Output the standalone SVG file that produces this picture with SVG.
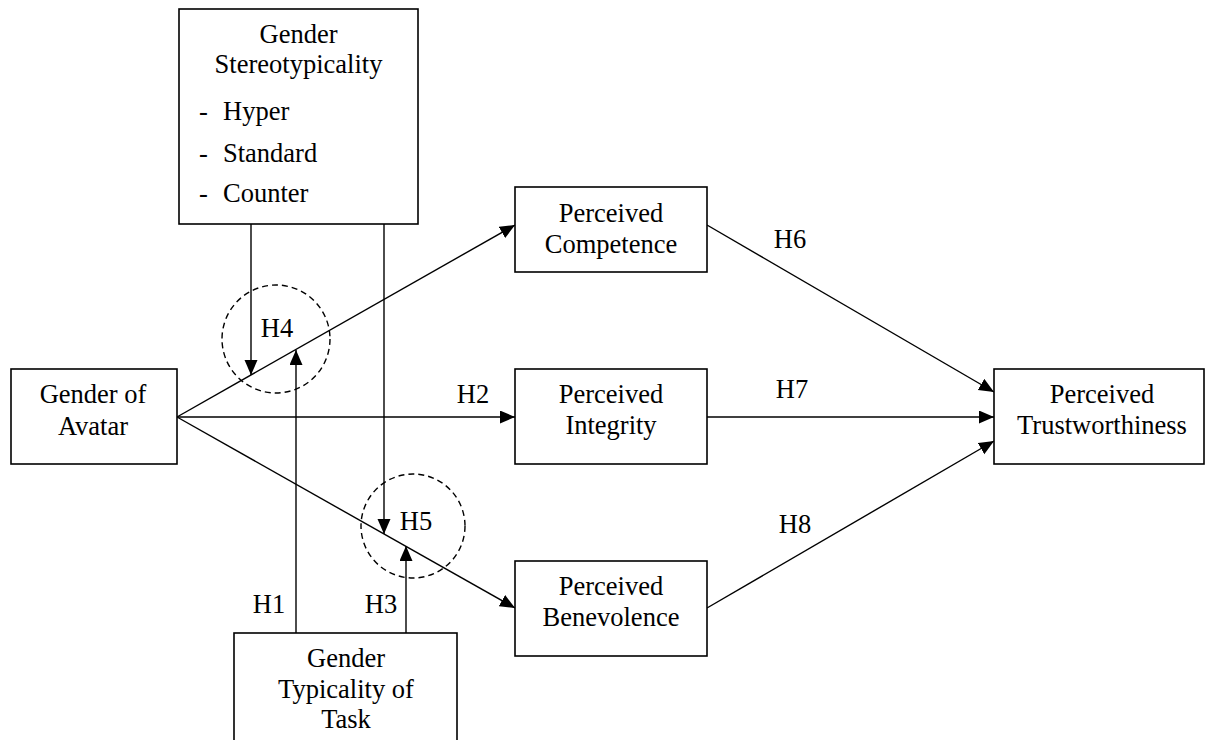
<svg xmlns="http://www.w3.org/2000/svg" width="1205" height="740" viewBox="0 0 1205 740" font-family="'Liberation Serif', Tinos, 'Times New Roman', 'DejaVu Serif', serif">
<style>
.box{fill:#fff;stroke:#000;stroke-width:1.6}
.t{font-family:'Liberation Serif', Tinos, 'Times New Roman', 'DejaVu Serif', serif;font-size:26.5px;fill:#000}
.c{text-anchor:middle}
.ln{stroke:#000;stroke-width:1.4;fill:none}
.dc{stroke:#000;stroke-width:1.4;fill:none;stroke-dasharray:6 4}
</style>
<defs>
<marker id="ah" markerUnits="userSpaceOnUse" markerWidth="16" markerHeight="14" refX="15" refY="6.5" orient="auto">
<path d="M0,0 L15,6.5 L0,13 z" fill="#000"/>
</marker>
</defs>
<rect width="1205" height="740" fill="#fff"/>
<g id="connectors">
<line class="ln" x1="177" y1="417" x2="515" y2="225" marker-end="url(#ah)"/>
<line class="ln" x1="177" y1="417" x2="515" y2="417" marker-end="url(#ah)"/>
<line class="ln" x1="177" y1="417" x2="515" y2="608" marker-end="url(#ah)"/>
<line class="ln" x1="707" y1="225" x2="994" y2="392" marker-end="url(#ah)"/>
<line class="ln" x1="707" y1="417" x2="994" y2="417" marker-end="url(#ah)"/>
<line class="ln" x1="707" y1="608" x2="994" y2="441" marker-end="url(#ah)"/>
<line class="ln" x1="251" y1="224" x2="251" y2="375" marker-end="url(#ah)"/>
<line class="ln" x1="384" y1="224" x2="384" y2="534" marker-end="url(#ah)"/>
<line class="ln" x1="296" y1="633" x2="296" y2="350" marker-end="url(#ah)"/>
<line class="ln" x1="406" y1="633" x2="406" y2="546" marker-end="url(#ah)"/>
<circle class="dc" cx="276" cy="339" r="54"/>
<circle class="dc" cx="413" cy="526" r="52"/>
<text class="t c" x="277" y="337">H4</text>
<text class="t c" x="416" y="530">H5</text>
<text class="t c" x="473" y="403">H2</text>
<text class="t c" x="269" y="613">H1</text>
<text class="t c" x="381" y="613">H3</text>
<text class="t c" x="790" y="248">H6</text>
<text class="t c" x="792" y="398">H7</text>
<text class="t c" x="795" y="533">H8</text>
</g>
<g id="stereotypicality">
<rect class="box" x="179" y="9" width="239" height="215"/>
<text class="t c" x="298.5" y="43">Gender</text>
<text class="t c" x="298.5" y="73">Stereotypicality</text>
<text class="t" x="199" y="120">-</text>
<text class="t" x="223" y="120">Hyper</text>
<text class="t" x="199" y="162">-</text>
<text class="t" x="223" y="162">Standard</text>
<text class="t" x="199" y="202">-</text>
<text class="t" x="223" y="202">Counter</text>
</g>
<g id="avatar">
<rect class="box" x="11" y="369" width="166" height="95"/>
<text class="t c" x="93" y="403">Gender of</text>
<text class="t c" x="93" y="435">Avatar</text>
</g>
<g id="competence">
<rect class="box" x="515" y="187" width="192" height="85"/>
<text class="t c" x="611" y="222">Perceived</text>
<text class="t c" x="611" y="253">Competence</text>
</g>
<g id="integrity">
<rect class="box" x="515" y="369" width="192" height="95"/>
<text class="t c" x="611" y="403">Perceived</text>
<text class="t c" x="611" y="434">Integrity</text>
</g>
<g id="benevolence">
<rect class="box" x="515" y="561" width="192" height="95"/>
<text class="t c" x="611" y="595">Perceived</text>
<text class="t c" x="611" y="626">Benevolence</text>
</g>
<g id="trustworthiness">
<rect class="box" x="994" y="369" width="210" height="95"/>
<text class="t c" x="1102" y="403">Perceived</text>
<text class="t c" x="1102" y="434">Trustworthiness</text>
</g>
<g id="task">
<rect class="box" x="234" y="633" width="223" height="130"/>
<text class="t c" x="346" y="667">Gender</text>
<text class="t c" x="346" y="698">Typicality of</text>
<text class="t c" x="346" y="728">Task</text>
</g>
</svg>
